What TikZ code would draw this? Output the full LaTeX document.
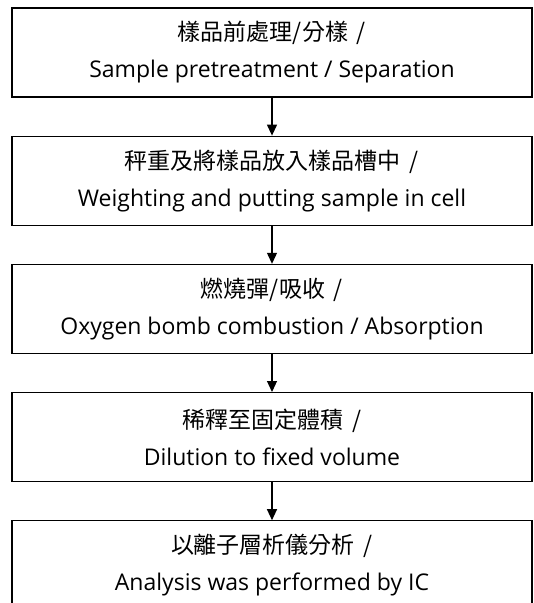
\documentclass[tikz,border=0pt]{standalone}
\usepackage{fontspec}
\setmainfont{Open Sans}
\newfontfamily\cjk{Noto Sans CJK TC}
\usetikzlibrary{arrows.meta,positioning}

\begin{document}
\begin{tikzpicture}[->,>={Stealth[length=11pt,width=10pt,inset=0pt]},x=1pt,y=1pt,
                    node distance=38pt,line width=1.2pt]
  \tikzstyle{stepbox}=[draw,rectangle,minimum width=520pt,minimum height=89pt,
                       align=center,inner sep=0pt,font=\fontsize{23}{37}\selectfont]
  \useasboundingbox (0,0) rectangle (534,-603);

  \node[stepbox] (prep)                   at (272,-52.5) {{\cjk 樣品前處理/分樣 \,/}\\Sample pretreatment / Separation};
  \node[stepbox] (weigh)   [below=of prep]  {{\cjk 秤重及將樣品放入樣品槽中 \,/}\\Weighting and putting sample in cell};
  \node[stepbox] (bomb)    [below=of weigh] {{\cjk 燃燒彈/吸收 \,/}\\Oxygen bomb combustion / Absorption};
  \node[stepbox] (dilute)  [below=of bomb]  {{\cjk 稀釋至固定體積 \,/}\\Dilution to fixed volume};
  \node[stepbox] (analyze) [below=of dilute] {{\cjk 以離子層析儀分析 \,/}\\Analysis was performed by IC};

  \path (prep)   edge (weigh)
        (weigh)  edge (bomb)
        (bomb)   edge (dilute)
        (dilute) edge (analyze);
\end{tikzpicture}
\end{document}
